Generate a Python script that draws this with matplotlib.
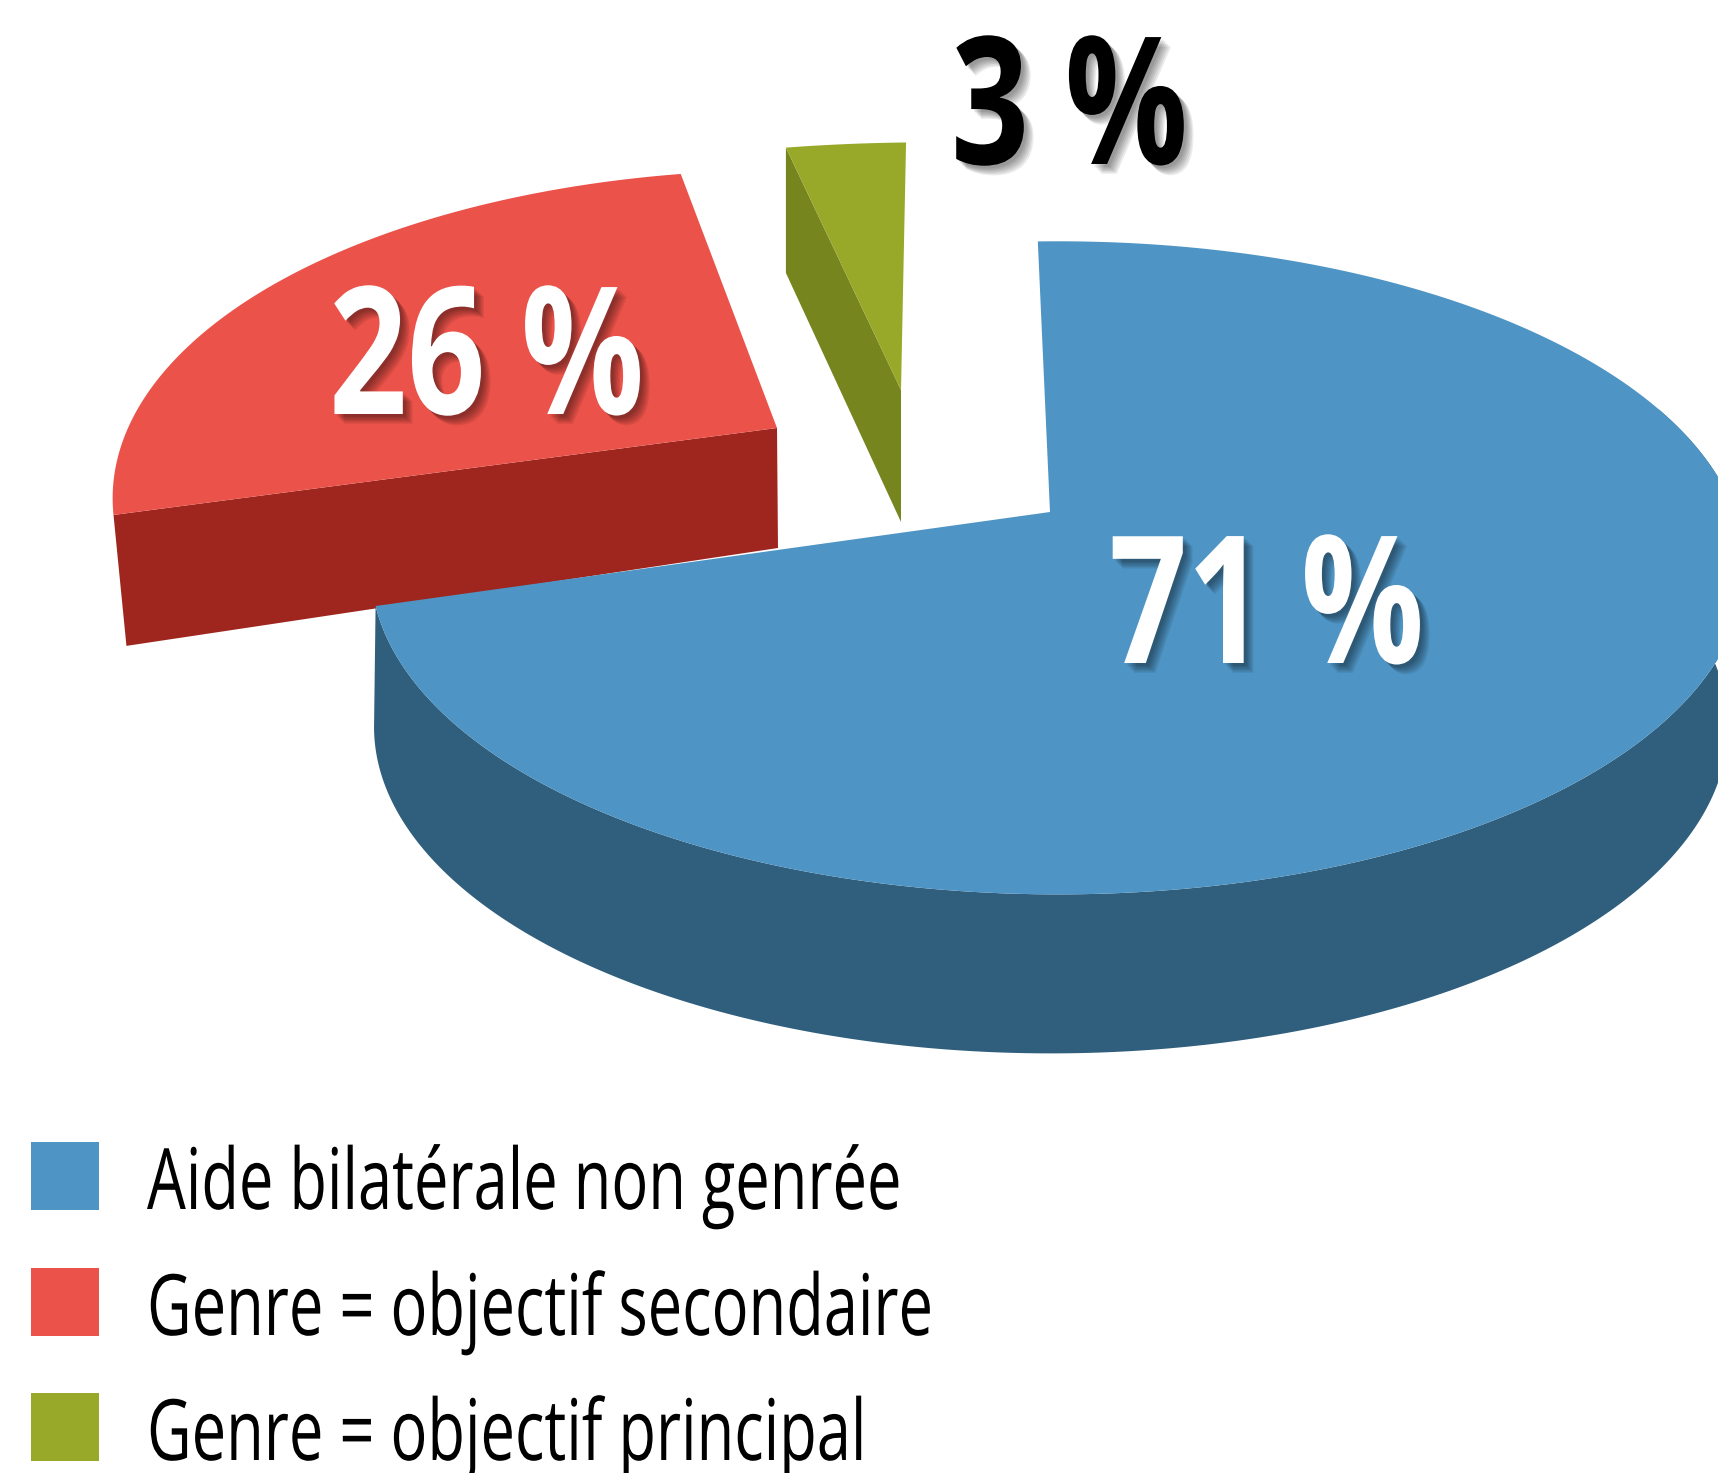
import numpy as np
import matplotlib
matplotlib.use('Agg')
import matplotlib.pyplot as plt
import matplotlib.patheffects as pe
from matplotlib.patches import Rectangle
from matplotlib.transforms import Affine2D

values = [71, 26, 3]
labels = ['Aide bilatérale non genrée', 'Genre = objectif secondaire', 'Genre = objectif principal']
top_colors = ['#4E94C4', '#EB5249', '#98A828']
side_colors = ['#305E7D', '#9F261E', '#77851E']
pct_colors = ['white', 'white', 'black']

# perspective of each slice: x0, y0, a, b, shear, k
top_geo = [(1058, 512, 677, 317, 0, 0.171),
           (800, 428, 672, 318, -15, 0.232),
           (901, 390, 747, 290, 32, 0.171)]
low_geo = [(1051, 671, 667, 317, 0, 0.171),
           (778, 548, 638, 358, -15, 0.232),
           (901, 522, 747, 298, 32, 0.171)]
apex_top = [(1050, 512), (777, 428), (901, 390)]
apex_low = [(1050, 671), (778, 548), (901, 522)]
pct_pos = [(1109, 663), (329, 414), (951, 164)]
start_angle = 92
spin = [0, -1.5, 0]


class Squeezed(pe.AbstractPathEffect):
    # no condensed font is installed, so narrow the glyphs while drawing
    def __init__(self, sx, effects):
        super().__init__()
        self.sx = sx
        self.effects = effects

    def draw_path(self, renderer, gc, tpath, affine, rgbFace=None):
        narrowed = Affine2D().scale(self.sx, 1) + affine
        for e in self.effects:
            e.draw_path(renderer, gc, tpath, narrowed, rgbFace)


def project(theta, geo):
    x0, y0, a, b, s, k = geo
    X, Y = np.cos(np.radians(theta)), np.sin(np.radians(theta))
    w = 1 + k * Y
    return x0 + (a * X + s * Y) / w, y0 - b * Y / w


fig = plt.figure(figsize=(17.18, 14.73), dpi=100)
ax = fig.add_axes([0, 0, 1, 1])
ax.set_xlim(0, 1718)
ax.set_ylim(1473, 0)
ax.axis('off')

sweeps = np.array(values) / sum(values) * 360
starts = start_angle - np.concatenate([[0], np.cumsum(sweeps)[:-1]]) + np.array(spin)

# red and green first, the blue slice sits over the red wall
for i in [1, 2, 0]:
    th = np.linspace(starts[i], starts[i] - sweeps[i], 400)
    tx, ty = project(th, top_geo[i])
    if i == 0:
        # outer wall of the big slice, only its front part shows
        fx, fy = project(np.linspace(th[-1], 20, 300), top_geo[i])
        bx, by = project(np.linspace(-170, 20, 300), low_geo[i])
        ax.fill(np.r_[fx, bx[::-1]], np.r_[fy, by[::-1]], color=side_colors[i], lw=0)
    else:
        # cut face, from the centre to the left end of the arc
        bx, by = project(th, low_geo[i])
        ax.fill([apex_top[i][0], tx[0], bx[0], apex_low[i][0]],
                [apex_top[i][1], ty[0], by[0], apex_low[i][1]],
                color=side_colors[i], lw=0)
    ax.fill(np.r_[apex_top[i][0], tx], np.r_[apex_top[i][1], ty], color=top_colors[i], lw=0)

shadow = [pe.SimplePatchShadow(offset=(d, -d), shadow_rgbFace='black', alpha=0.08)
          for d in (2, 3, 4, 5, 6, 7)] + [pe.Normal()]
font = ['Open Sans', 'DejaVu Sans']
for v, c, (x, y) in zip(values, pct_colors, pct_pos):
    ax.text(x, y, f'{v} %', color=c, fontsize=128, fontweight='bold', family=font,
            ha='left', va='baseline', path_effects=[Squeezed(0.77, shadow)])

legend_y = [1142, 1268, 1393]
for lab, c, y in zip(labels, top_colors, legend_y):
    ax.add_patch(Rectangle((31, y), 68, 68, color=c, lw=0))
    ax.text(147, y + 67, lab, color='black', fontsize=61, family=font, ha='left', va='baseline',
            path_effects=[Squeezed(0.725, [pe.Normal()])])

fig.savefig('out.png', dpi=100)
